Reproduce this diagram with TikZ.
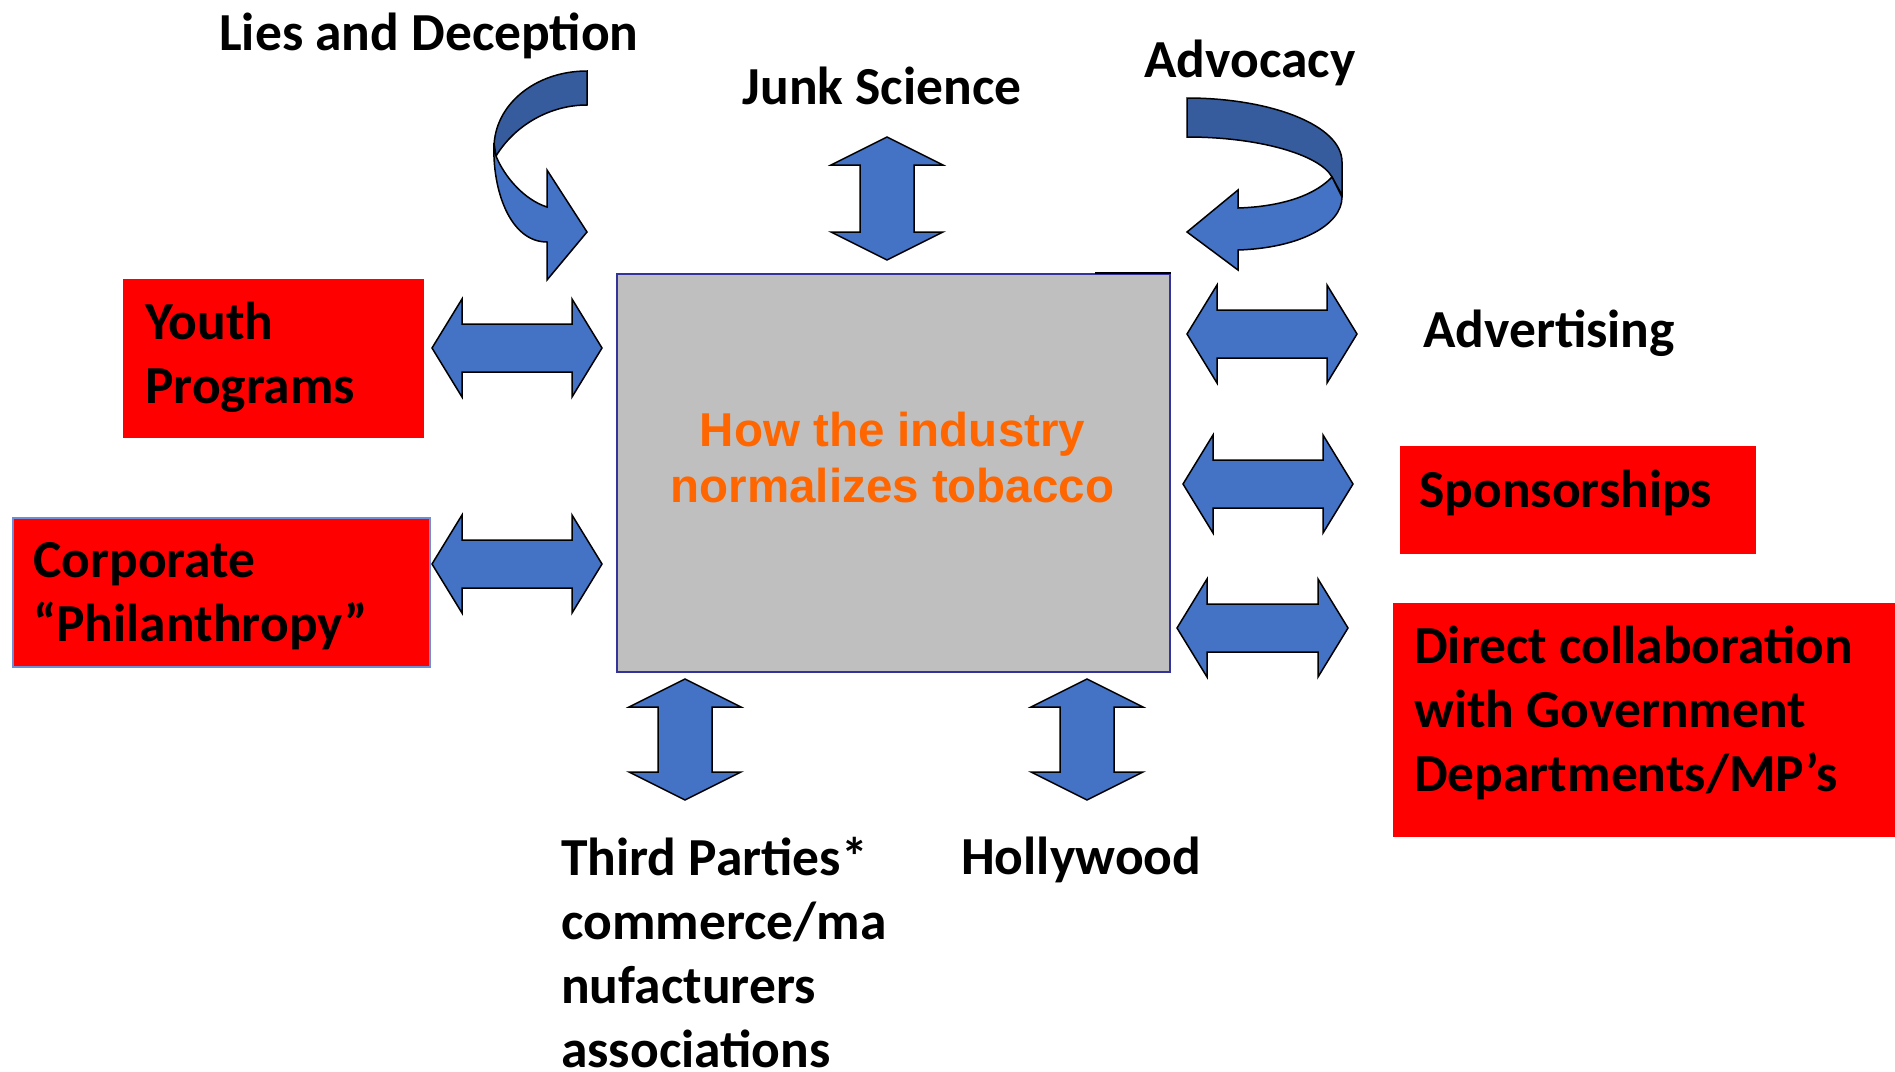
\documentclass[tikz,border=0pt]{standalone}
\usepackage{fontspec}
\newfontfamily\labfont{Carlito}
\newfontfamily\corefont{Liberation Sans}
\definecolor{arrowblue}{HTML}{4472C4}
\definecolor{arrowdark}{HTML}{365C9E}
\definecolor{boxred}{HTML}{FF0000}
\definecolor{boxgray}{HTML}{BFBFBF}
\definecolor{boxblue}{HTML}{333399}
\definecolor{corpedge}{HTML}{6E8FD6}
\definecolor{coreorange}{HTML}{FF6600}
\newcommand\lstack[1]{\vtop{\halign{##\hfil\cr#1\crcr}}}
\newcommand\cstack[1]{\vtop{\halign{\hfil##\hfil\cr#1\crcr}}}
\newcommand\dblarrowh[3]{% left tip x, right tip x, centre y
  \draw[blockarrow] (#1,#3) -- ({#1+30},{#3-49}) -- ({#1+30},{#3-24}) -- ({#2-30},{#3-24}) -- ({#2-30},{#3-49}) -- (#2,#3) -- ({#2-30},{#3+49}) -- ({#2-30},{#3+24}) -- ({#1+30},{#3+24}) -- ({#1+30},{#3+49}) -- cycle;}
\newcommand\dblarrowv[3]{% centre x, top y, bottom y
  \draw[blockarrow] (#1,#2) -- ({#1+56},{#2+28}) -- ({#1+27},{#2+28}) -- ({#1+27},{#3-28}) -- ({#1+56},{#3-28}) -- (#1,#3) -- ({#1-56},{#3-28}) -- ({#1-27},{#3-28}) -- ({#1-27},{#2+28}) -- ({#1-56},{#2+28}) -- cycle;}
\begin{document}
\begin{tikzpicture}[x=1pt,y=-1pt,
  blockarrow/.style={fill=arrowblue, draw=black, line width=1.5pt, line join=miter},
  darkpart/.style={fill=arrowdark, draw=black, line width=1.5pt},
  redbox/.style={fill=boxred, draw=none, inner sep=0, anchor=north west},
  lbl/.style={inner sep=0, font=\labfont\bfseries\fontsize{53.5}{64}\selectfont},
]
\useasboundingbox[fill=white] (0,0) rectangle (1895,1071);

% red boxes
\node[redbox, minimum width=301, minimum height=159] (youthbox) at (123,279) {};
\node[redbox, draw=corpedge, line width=1.5pt, minimum width=417, minimum height=149] (corpbox) at (12,517) {};
\node[redbox, minimum width=356, minimum height=108] (sponsorbox) at (1400,446) {};
\node[redbox, minimum width=502, minimum height=234] (directbox) at (1393,603) {};

% central box
\node[draw=boxblue, fill=boxgray, line width=2pt, minimum width=553, minimum height=398, inner sep=0, anchor=north west] (core) at (616,273) {};
\draw[line width=2.5pt] (1095,273) -- (1171,273);
\node[inner sep=0, anchor=base, text=coreorange, font=\corefont\bfseries\fontsize{47.5}{56}\selectfont] (coretext) at (892.5,446)
  {\cstack{How the industry\cr normalizes tobacco}};

% straight double arrows
\dblarrowh{432}{602}{348}
\dblarrowh{432}{602}{564}
\dblarrowh{1187}{1357}{334}
\dblarrowh{1183}{1353}{484}
\dblarrowh{1177}{1348}{628}
\dblarrowv{887}{137}{260}
\dblarrowv{685}{679}{800}
\dblarrowv{1087}{679}{800}

% curved arrow, top left
\draw[darkpart] (587,71) .. controls (535,71) and (494,105) .. (494,148) -- (496,156) .. controls (515,125) and (550,105) .. (587,105) -- cycle;
\draw[blockarrow] (494,143) .. controls (492,190) and (510,242) .. (547,242) -- (547,280) -- (587,232) -- (547,170) -- (547,207) .. controls (525,200) and (505,178) .. (496,156) -- cycle;

% curved arrow, top right
\draw[darkpart] (1187,98) .. controls (1270,98) and (1342,125) .. (1342,162) -- (1342,195) -- (1332,177) .. controls (1320,155) and (1260,137) .. (1187,137) -- cycle;
\draw[blockarrow] (1332,177) .. controls (1310,200) and (1270,207) .. (1238,208) -- (1238,190) -- (1187,232) -- (1238,270) -- (1238,250) .. controls (1300,248) and (1342,225) .. (1342,197) -- cycle;

% labels
\node[lbl, anchor=base] (lies) at (429,50) {Lies and Deception};
\node[lbl, anchor=base] (junk) at (882,104) {Junk Science};
\node[lbl, anchor=base] (advocacy) at (1250,77) {Advocacy};
\node[lbl, anchor=base west] (advertising) at (1423,347) {Advertising};
\node[lbl, anchor=base west] (sponsor) at (1419,507) {Sponsorships};
\node[lbl, anchor=base west] (direct) at (1414,663)
  {\lstack{Direct collaboration\cr with Government\cr Departments/MP’s}};
\node[lbl, anchor=base west] (hollywood) at (961,874) {Hollywood};
\node[lbl, anchor=base west] (third) at (561,875)
  {\lstack{Third Parties*\cr commerce/ma\cr nufacturers\cr associations}};
\node[lbl, anchor=base west] (youth) at (145,339)
  {\lstack{Youth\cr Programs}};
\node[lbl, anchor=base west] (corporate) at (33,577)
  {\lstack{Corporate\cr “Philanthropy”}};
\end{tikzpicture}
\end{document}
